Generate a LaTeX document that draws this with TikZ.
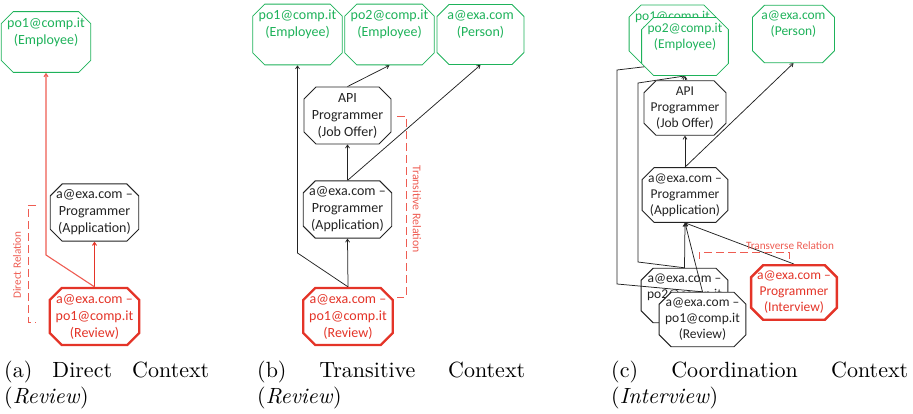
\documentclass[tikz,border=0pt]{standalone}
\usepackage{fontspec}
\newfontfamily\nodefont{Carlito}
\usetikzlibrary{shapes.misc,arrows.meta}
\definecolor{cgreen}{RGB}{30,178,90}
\definecolor{cred}{RGB}{228,52,40}
\definecolor{lred}{RGB}{238,92,82}
\definecolor{cgray}{RGB}{35,35,35}
\pgfdeclarelayer{under}
\pgfdeclarelayer{wires}
\pgfsetlayers{under,wires,main}
% caption set at 10pt and enlarged as a whole
\newcommand{\subcap}[2]{\scalebox{2.2}{\fontsize{10}{12}\selectfont\parbox[t]{#1}{#2}}}
\begin{document}
\begin{tikzpicture}[x=1pt,y=-1pt,
  box/.style={chamfered rectangle, chamfered rectangle xsep=6pt,
    chamfered rectangle ysep=6pt, inner sep=0pt, align=center,
    font=\nodefont\fontsize{14}{17}\selectfont,
    minimum width=86pt, minimum height=56pt, fill=white},
  smallbox/.style={minimum width=82pt, minimum height=53pt,
    font=\nodefont\fontsize{13.5}{16}\selectfont},
  gbox/.style={box, draw=cgreen, text=cgreen, line width=0.8pt},
  bbox/.style={box, draw=cgray, text=cgray, line width=0.9pt},
  rbox/.style={box, draw=cred, text=cred, line width=2.4pt},
  link/.style={draw=cgray, line width=0.75pt, -{Straight Barb[length=3pt,width=4pt]}},
  redlink/.style={draw=cred, line width=1pt, -{Straight Barb[length=3pt,width=4pt]}},
  bracket/.style={draw=lred, line width=0.9pt, dash pattern=on 8pt off 4pt},
  rel/.style={text=lred, inner sep=0pt, font=\nodefont\fontsize{11.2}{13}\selectfont},
  captext/.style={anchor=base west, inner sep=0pt}]
\useasboundingbox (0,0) rectangle (913,413);

% ---------- (a) direct context ----------
\node[gbox, minimum width=84pt] (aEmp) at (46,42) {po1@comp.it\\(Employee)\\\strut};
\node[bbox, minimum width=83pt, minimum height=55pt] (aApp) at (94.5,212.5) {a@exa.com –\\Programmer\\(Application)};
\node[rbox, minimum width=83pt, minimum height=51pt] (aRev) at (94.5,316.5) {a@exa.com –\\po1@comp.it\\(Review)};
\coordinate (aBend) at (46,255);
\begin{pgfonlayer}{wires}
  \draw[redlink] (aRev.north) -- (aApp.south);
  \draw[redlink, draw=lred, line width=1.1pt] (aRev.north) -- (aBend) -- (aEmp.south);
\end{pgfonlayer}
\draw[bracket] (36,205) -- (28,205) -- (28,322) -- (36,322);
\node[rel, rotate=90] (aLab) at (17,265) {Direct Relation};

% ---------- (b) transitive context ----------
\node[gbox, minimum width=87pt, minimum height=57pt] (bE1) at (297.5,34.5) {po1@comp.it\\(Employee)\\\strut};
\node[gbox, minimum width=87pt, minimum height=57pt] (bE2) at (389.5,34.5) {po2@comp.it\\(Employee)\\\strut};
\node[gbox, minimum width=87pt, minimum height=57pt] (bPer) at (480.5,34.5) {a@exa.com\\(Person)\\\strut};
\node[bbox, minimum width=87pt, minimum height=57pt] (bJob) at (347.5,115.5) {API\\Programmer\\(Job Offer)};
\node[bbox, minimum width=87pt, minimum height=57pt] (bApp) at (347.5,209.5) {a@exa.com –\\Programmer\\(Application)};
\node[rbox, minimum width=86pt, minimum height=53pt] (bRev) at (348,316.5) {a@exa.com –\\po1@comp.it\\(Review)};
\coordinate (bBend) at (297.5,253);
\begin{pgfonlayer}{wires}
  \draw[link] (bRev.north) -- (bApp.south);
  \draw[link] (bApp.north) -- (bJob.south);
  \draw[link] (bJob.north) -- (bE2.south);
  \draw[link] (bApp.north) -- (bPer.south);
  \draw[link] (bRev.north) -- (bBend) -- (bE1.south);
\end{pgfonlayer}
\draw[bracket] (397,116) -- (406,116) -- (406,297) -- (397,297);
\node[rel, rotate=-90, font=\nodefont\fontsize{11.8}{13}\selectfont] (bLab) at (417,209) {Transitive Relation};

% ---------- (c) coordination context ----------
\begin{pgfonlayer}{under}
  \node[gbox, smallbox, minimum height=54pt] (cE1) at (672.5,34) {po1@comp.it\\(Employee)\\\strut};
  \node[bbox, smallbox] (cRev2) at (684.5,295.5) {a@exa.com –\\po2@comp.it\\(Review)};
\end{pgfonlayer}
\node[gbox, smallbox] (cE2) at (685,46.5) {po2@comp.it\\(Employee)\\\strut};
\node[gbox, smallbox, minimum height=54pt] (cPer) at (793.5,34) {a@exa.com\\(Person)\\\strut};
\node[bbox, smallbox, minimum height=52pt] (cJob) at (685,108) {API\\Programmer\\(Job Offer)};
\node[bbox, smallbox, minimum height=52pt] (cApp) at (685,195) {a@exa.com –\\Programmer\\(Application)};
\node[bbox, smallbox] (cRev1) at (702.5,319.5) {a@exa.com –\\po1@comp.it\\(Review)};
\node[rbox, minimum width=80pt, minimum height=51pt, font=\nodefont\fontsize{13.5}{16}\selectfont] (cInt) at (794,292.5) {a@exa.com –\\Programmer\\(Interview)};
\coordinate (c2a) at (638,262);
\coordinate (c2b) at (638,83);
\coordinate (c1a) at (617,284);
\coordinate (c1b) at (617,70);
\begin{pgfonlayer}{wires}
  \draw[link] (cRev2.north) -- (cApp.south);
  \draw[link] (cRev1.north) -- (cApp.south);
  \draw[link] (cInt.north) -- (cApp.south);
  \draw[link] (cApp.north) -- (cJob.south);
  \draw[link] (cApp.north) -- (cPer.south);
  \draw[link] (cJob.north) -- (cE2.south);
  \draw[link] (cRev2.north) -- (c2a) -- (c2b) -- (cE2.south);
  \draw[link] (cRev1.north) -- (c1a) -- (c1b) -- (cE1.south);
\end{pgfonlayer}
\draw[bracket] (699,259) -- (699,252) -- (789,252) -- (789,259);
\node[rel] (cLab) at (790,246) {Transverse Relation};

% ---------- captions ----------
\node[captext] (capA) at (4,377) {\subcap{93.2pt}{(a) Direct Context\linebreak(\textit{Review})}};
\node[captext] (capB) at (257,377) {\subcap{121.8pt}{(b) Transitive Context\linebreak(\textit{Review})}};
\node[captext] (capC) at (611,377) {\subcap{135pt}{(c) Coordination Context\linebreak(\textit{Interview})}};
\end{tikzpicture}
\end{document}
